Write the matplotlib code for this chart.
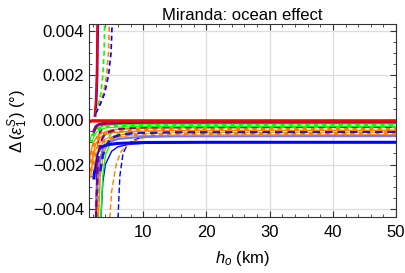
import matplotlib
matplotlib.use('Agg')
import matplotlib.pyplot as plt
from matplotlib.ticker import MultipleLocator, FuncFormatter

plt.rcParams['font.family'] = ['Liberation Sans', 'DejaVu Sans']
plt.rcParams['mathtext.fontset'] = 'custom'
plt.rcParams['mathtext.it'] = 'Liberation Sans:italic'
plt.rcParams['mathtext.rm'] = 'Liberation Sans'

# asymptotic (thick) curves
red_x = [1.45, 1.7, 2.0, 3.0, 5.0, 10.0, 50.0]
red_y = [-0.00008, -0.00005, -0.00004, -0.00004, -0.00004, -0.00004, -0.00004]
purple_x = [2.2, 2.5, 3.0, 4.0, 6.0, 10.0, 50.0]
purple_y = [-0.0005, -0.0003, -0.0002, -0.00015, -0.00012, -0.0001, -0.00009]
green_x = [1.8, 2.0, 2.5, 3.0, 4.0, 6.0, 10.0, 50.0]
green_y = [-0.0009, -0.0007, -0.0005, -0.0004, -0.0003, -0.00026, -0.00024, -0.00023]
orange_x = [1.5, 1.8, 2.2, 2.8, 3.5, 5.0, 8.0, 15.0, 50.0]
orange_y = [-0.0025, -0.0016, -0.0011, -0.0008, -0.00065, -0.0005, -0.00045, -0.00041, -0.0004]
orange2_x = [2.0, 2.4, 3.0, 4.0, 5.5, 8.0, 15.0, 50.0]
orange2_y = [-0.0022, -0.0015, -0.0011, -0.0009, -0.00075, -0.00066, -0.00062, -0.0006]
blue_x = [2.2, 2.4, 2.7, 3.0, 3.5, 4.5, 6.0, 10.0, 20.0, 50.0]
blue_y = [-0.0026, -0.0019, -0.0015, -0.0013, -0.00119, -0.0011, -0.00105, -0.00101, -0.001, -0.001]
bluedash_x = [3.2, 3.6, 4.2, 5.0, 6.5, 9.0, 15.0, 50.0]
bluedash_y = [-0.0023, -0.0016, -0.0011, -0.0008, -0.00065, -0.00058, -0.00055, -0.00053]
purpledash_x = [2.5, 2.8, 3.2, 4.0, 6.0, 10.0, 50.0]
purpledash_y = [-0.0044, -0.002, -0.001, -0.0006, -0.0004, -0.00033, -0.0003]
lightblue_x = [2.6, 3.0, 3.6, 4.5, 6.0, 9.0, 15.0, 50.0]
lightblue_y = [-0.0035, -0.002, -0.0013, -0.001, -0.00085, -0.00077, -0.00073, -0.00072]

# thin curves diverging to -inf
thin_blue_x = [3.3, 3.6, 4.0, 5.0, 6.0, 8.0, 12.0, 20.0, 50.0]
thin_blue_y = [-0.0044, -0.0028, -0.002, -0.0014, -0.0012, -0.00108, -0.00102, -0.001, -0.001]
thin_bluedash_x = [6.0, 6.3, 6.8, 7.5, 8.5, 10.0, 14.0, 20.0, 50.0]
thin_bluedash_y = [-0.0044, -0.0025, -0.0015, -0.0011, -0.0009, -0.00075, -0.00065, -0.0006, -0.00055]
thin_orangedash_x = [4.7, 5.0, 5.7, 6.5, 8.0, 10.0, 15.0, 50.0]
thin_orangedash_y = [-0.0044, -0.0032, -0.002, -0.0014, -0.001, -0.0008, -0.00065, -0.0006]
thin_green_x = [3.3, 3.6, 4.0, 5.0, 6.0, 8.0, 12.0, 50.0]
thin_green_y = [-0.0044, -0.0025, -0.0016, -0.0009, -0.0006, -0.0004, -0.0003, -0.00023]
thin_greendash_x = [2.8, 3.0, 3.4, 4.0, 5.0, 7.0, 12.0, 50.0]
thin_greendash_y = [-0.0044, -0.0028, -0.0015, -0.0009, -0.0006, -0.0004, -0.0003, -0.00025]
thin_orange_x = [2.9, 3.2, 3.7, 4.5, 6.0, 9.0, 15.0, 50.0]
thin_orange_y = [-0.0044, -0.0025, -0.0015, -0.001, -0.0007, -0.0005, -0.00042, -0.0004]
thin_purple_x = [2.5, 2.7, 3.0, 3.5, 4.5, 7.0, 15.0, 50.0]
thin_purple_y = [-0.0044, -0.0015, -0.0007, -0.0004, -0.00025, -0.00015, -0.0001, -0.0001]
thin_red_x = [2.6, 2.8, 3.1, 3.6, 4.5, 7.0, 15.0, 50.0]
thin_red_y = [-0.0044, -0.0012, -0.0005, -0.0002, -0.0001, -0.00006, -0.00004, -0.00004]

# positive branches left of the poles
pos_purple_x = [2.38, 2.5, 2.6, 2.7, 2.8]
pos_purple_y = [0.0002, 0.0006, 0.0012, 0.0022, 0.0045]
pos_red_x = [2.3, 2.45, 2.58, 2.68, 2.76]
pos_red_y = [0.0003, 0.0007, 0.0013, 0.0023, 0.0045]
pos_green_x = [2.5, 2.9, 3.3, 3.6, 3.8, 3.9]
pos_green_y = [0.0003, 0.0007, 0.0012, 0.002, 0.003, 0.0045]
pos_orange_x = [2.5, 3.1, 3.7, 4.2, 4.5, 4.65]
pos_orange_y = [0.0003, 0.0007, 0.0012, 0.002, 0.003, 0.0045]
pos_blue_x = [2.5, 3.2, 3.9, 4.5, 4.9, 5.1]
pos_blue_y = [0.0003, 0.0007, 0.0012, 0.002, 0.003, 0.0045]

RED = (1, 0, 0)
PURPLE = (0.5, 0, 0.5)
GREEN = (0, 1, 0)
ORANGE = (1, 0.5, 0)
BLUE = (0, 0, 1)

fig = plt.figure(figsize=(4.05, 2.73), dpi=100)
ax = fig.add_axes([0.22, 0.205, 0.758, 0.707])

# thin curves first
ax.plot(thin_blue_x, thin_blue_y, color=BLUE, lw=1.0)
ax.plot(thin_bluedash_x, thin_bluedash_y, color=BLUE, lw=1.0, ls=(0, (4, 2)))
ax.plot(thin_orangedash_x, thin_orangedash_y, color=ORANGE, lw=1.0, ls=(0, (4, 2)))
ax.plot(thin_green_x, thin_green_y, color=GREEN, lw=1.0)
ax.plot(thin_greendash_x, thin_greendash_y, color=GREEN, lw=1.0, ls=(0, (4, 2)))
ax.plot(thin_orange_x, thin_orange_y, color=ORANGE, lw=1.0)
ax.plot(thin_purple_x, thin_purple_y, color=PURPLE, lw=1.0)
ax.plot(thin_red_x, thin_red_y, color=RED, lw=1.0)

ax.plot(pos_purple_x, pos_purple_y, color=PURPLE, lw=2.0)
ax.plot(pos_red_x, pos_red_y, color=RED, lw=1.0)
ax.plot(pos_green_x, pos_green_y, color=GREEN, lw=1.2, ls=(0, (3, 2)))
ax.plot(pos_orange_x, pos_orange_y, color=ORANGE, lw=1.2, ls=(0, (3, 2)))
ax.plot(pos_blue_x, pos_blue_y, color=BLUE, lw=1.2, ls=(0, (3, 2)))

# thick curves
ax.plot(lightblue_x, lightblue_y, color=(0.45, 0.45, 1), lw=1.5)
ax.plot(blue_x, blue_y, color=BLUE, lw=2.2)
ax.plot(orange2_x, orange2_y, color=ORANGE, lw=2.2)
ax.plot(orange2_x, orange2_y, color='white', lw=1.0, ls=(0, (3, 3)))
ax.plot(bluedash_x, bluedash_y, color=(0.1, 0.1, 0.8), lw=1.8, ls=(0, (3, 2)))
ax.plot(orange_x, orange_y, color=ORANGE, lw=3.0)
ax.plot(orange_x, orange_y, color='white', lw=1.0, ls=(0, (3, 3)))
ax.plot(purpledash_x, purpledash_y, color=PURPLE, lw=1.6, ls=(0, (3, 2)))
ax.plot(green_x, green_y, color=GREEN, lw=2.6)
ax.plot(green_x, green_y, color='white', lw=1.0, ls=(0, (3, 3)))
ax.plot(purple_x, purple_y, color=PURPLE, lw=2.2)
ax.plot(red_x, red_y, color=RED, lw=2.4)

ax.set_xlim(1.43, 50)
ax.set_ylim(-0.00435, 0.0043)
ax.xaxis.set_major_locator(MultipleLocator(10))
ax.xaxis.set_minor_locator(MultipleLocator(2))
ax.yaxis.set_major_locator(MultipleLocator(0.002))
ax.yaxis.set_minor_locator(MultipleLocator(0.0005))
ax.yaxis.set_major_formatter(FuncFormatter(lambda v, p: ('%.3f' % v).replace('-', '\u2212')))
ax.tick_params(which='both', direction='in', top=True, right=True, labelsize=12, color='#333333')
ax.tick_params(which='major', length=4)
ax.tick_params(which='minor', length=2)
ax.tick_params(axis='x', pad=6)
ax.grid(True, which='major', color='#dddddd', lw=0.9)
ax.set_axisbelow(True)
for s in ax.spines.values():
    s.set_color('#333333')

ax.set_title('Miranda: ocean effect', fontsize=12, pad=3)
ax.set_xlabel(r'$h_o$ (km)', fontsize=12, labelpad=6)
ax.set_ylabel(r'$\Delta\,(\varepsilon_1^S)$ (°)', fontsize=12, labelpad=2)

fig.savefig('out.png', dpi=100)
